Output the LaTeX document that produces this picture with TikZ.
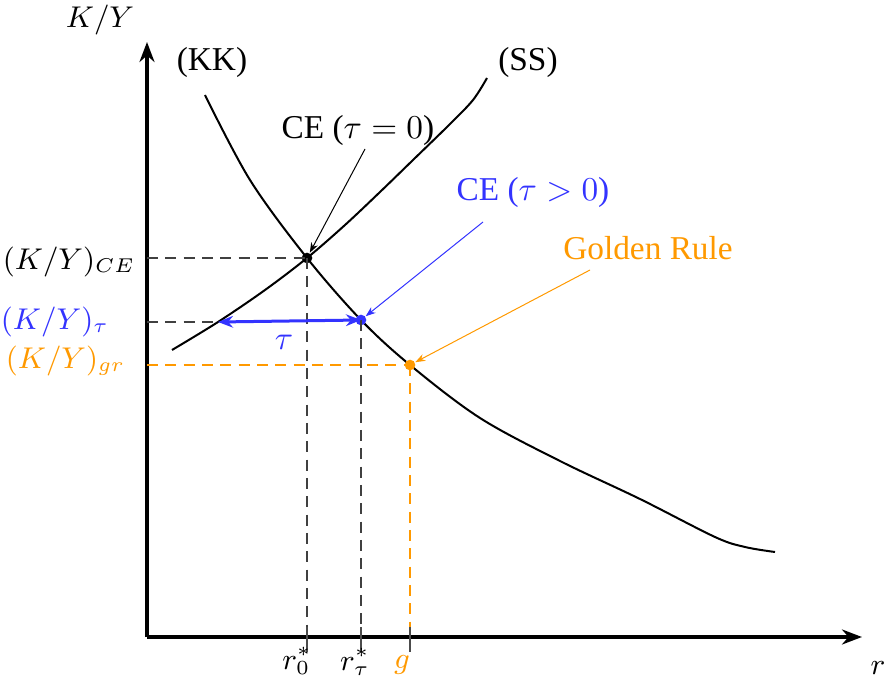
\documentclass[tikz,border=0pt]{standalone}
\usepackage{fontspec}
\setmainfont{Liberation Serif}
\usetikzlibrary{arrows.meta}
\definecolor{myblue}{RGB}{51,51,255}
\definecolor{myorange}{RGB}{255,153,0}
\begin{document}
\begin{tikzpicture}[x=0.3pt,y=-0.3pt,
  axisline/.style={line width=1.2pt,-{Stealth[length=6pt,width=4.5pt]}},
  curve/.style={line width=0.6pt},
  guide/.style={line width=0.35pt,dash pattern=on 3.3pt off 2.2pt},
  tickline/.style={line width=0.35pt,black!70},
  dotpt/.style={circle,fill,inner sep=0pt,minimum size=3.2pt},
  note/.style={line width=0.3pt,-{Stealth[length=3pt,width=2.2pt]}},
  lbl/.style={inner sep=1pt},
  mlbl/.style={inner sep=1pt,font=\fontsize{9.2}{11}\selectfont}]
\useasboundingbox (0,0) rectangle (887,688);
% axes
\coordinate (O) at (147,637);
\coordinate (ytop) at (147,42);
\coordinate (xend) at (862,637);
\draw[axisline] (O) -- (ytop);
\draw[axisline] (O) -- (xend);
\node[mlbl] (ylab) at (100,20) {$K/Y$};
\node[mlbl] (xlab) at (878,668) {$r$};
% curves
\draw[curve] plot[smooth,tension=0.55] coordinates {(205,95) (250,180) (307,258) (361,320) (410,365) (480,418) (560,461) (640,499) (715,537) (745,547) (775,552)};
\draw[curve] plot[smooth,tension=0.55] coordinates {(172,350) (218,322) (265,290) (307,258) (345,225) (380,192) (413,160) (450,124) (473,100) (487,78)};
\node[lbl] (kk) at (212,62) {(KK)};
\node[lbl] (ss) at (528,62) {(SS)};
% points
\node[dotpt,black] (ce) at (307,258) {};
\node[dotpt,myblue] (cet) at (361,320) {};
\node[dotpt,myorange] (gr) at (410,365) {};
\coordinate (ce0) at (147,258);
\coordinate (cet0) at (147,322);
\coordinate (gr0) at (147,365);
\coordinate (cex) at (307,637);
\coordinate (cetx) at (361,637);
\coordinate (grx) at (410,637);
\coordinate (ssl) at (218,322);
% guides
\draw[guide,black!75] (ce0) -- (ce.center);
\draw[guide,black!75] (ce.center) -- (cex);
\draw[guide,black!75] (cet0) -- (ssl);
\draw[guide,black!75] (cet.center) -- (cetx);
\draw[guide,myorange] (gr0) -- (gr.center);
\draw[guide,myorange] (gr.center) -- (grx);
\draw[tickline] ([yshift=3pt]cex) -- ([yshift=-4.5pt]cex);
\draw[tickline] ([yshift=3pt]cetx) -- ([yshift=-4.5pt]cetx);
\draw[tickline] ([yshift=3pt]grx) -- ([yshift=-4.5pt]grx);
% tau arrow
\draw[myblue,line width=0.9pt,{Stealth[length=4.5pt,width=3.5pt]}-{Stealth[length=4.5pt,width=3.5pt]}] (ssl) -- (cet.center);
\node[lbl,myblue] (taul) at (284,342) {$\tau$};
% axis labels
\node[mlbl,anchor=east] (kyce) at (139,262) {$(K/Y)_{CE}$};
\node[mlbl,anchor=east,myblue] (kyt) at (113,322) {$(K/Y)_{\tau}$};
\node[mlbl,anchor=east,myorange] (kyg) at (129,361) {$(K/Y)_{gr}$};
\node[mlbl] (r0) at (297,661) {$r_0^*$};
\node[mlbl] (rt) at (355,662) {$r_\tau^*$};
\node[mlbl,myorange] (gl) at (402,665) {$g$};
% annotations
\node[lbl] (ceL) at (358,130) {CE ($\tau=0$)};
\node[lbl,myblue] (cetL) at (533,192) {CE ($\tau>0$)};
\node[lbl,myorange] (grL) at (648,248) {Golden Rule};
\coordinate (a1) at (365,149);
\coordinate (a2) at (483,222);
\coordinate (a3) at (590,270);
\draw[note,black] (a1) -- (ce);
\draw[note,myblue] (a2) -- (cet);
\draw[note,myorange] (a3) -- (gr);
\end{tikzpicture}
\end{document}
